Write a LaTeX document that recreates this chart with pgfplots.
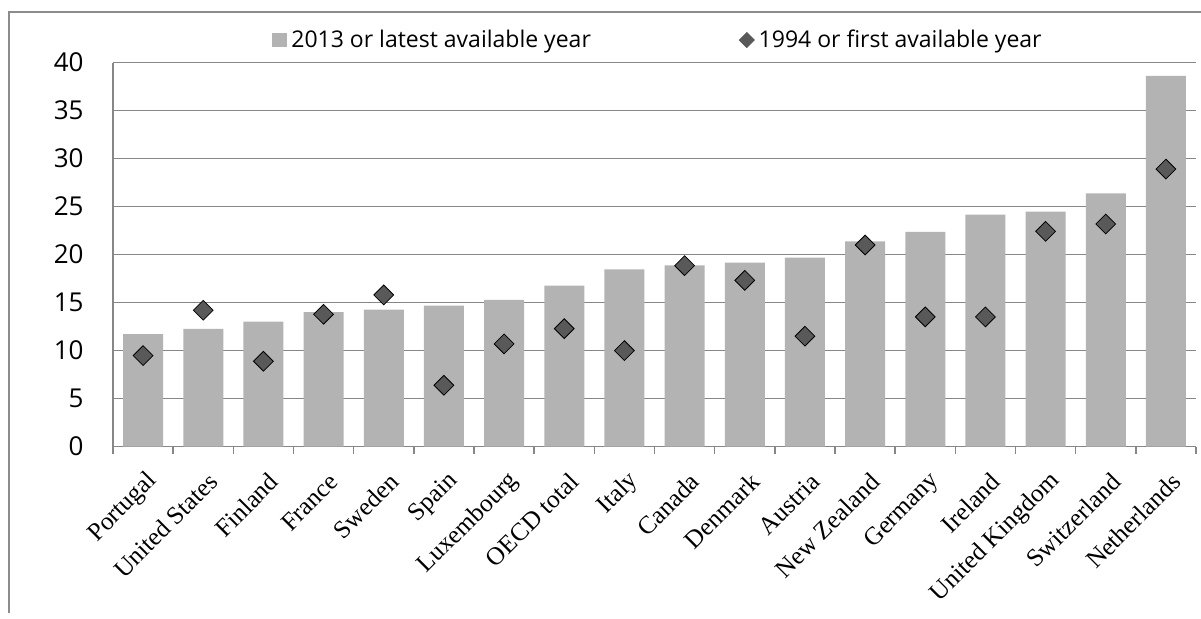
\documentclass[border=0pt]{standalone}
\usepackage{fontspec}
\setmainfont{Open Sans}
\newfontfamily\labelserif{Liberation Serif}
\usepackage{pgfplots}
\usepackage{pgfplotstable}
\pgfplotsset{compat=1.18}

\definecolor{barfill}{HTML}{B3B3B3}
\definecolor{markfill}{HTML}{595959}
\definecolor{gridgray}{HTML}{878787}
\definecolor{framegray}{HTML}{8C8C8C}

% idx: category position; latest: 2013 or latest available year; first: 1994 or first available year
\pgfplotstableread{
idx latest first
1  11.70  9.47
2  12.25 14.19
3  13.00  8.88
4  14.00 13.77
5  14.26 15.79
6  14.68  6.38
7  15.27 10.69
8  16.76 12.28
9  18.46  9.99
10 18.88 18.84
11 19.15 17.31
12 19.67 11.49
13 21.37 20.99
14 22.35 13.50
15 24.15 13.50
16 24.46 22.41
17 26.37 23.18
18 38.62 28.90
}\sharedata

\begin{document}
\begin{tikzpicture}
\useasboundingbox (0,0) rectangle (600.5pt,309pt);
% chart frame
\draw[framegray, line width=0.75pt] (4.5pt,2.5pt) -- (4.5pt,303pt) -- (602pt,303pt);
\begin{axis}[
  at={(56.5pt,85.75pt)}, anchor=south west,
  scale only axis, width=541.5pt, height=192pt,
  xmin=0.5, xmax=18.5, ymin=0, ymax=40,
  axis lines*=left,
  axis line style={gridgray, line width=0.7pt},
  ytick={0,5,...,40},
  ytick style={draw=none},
  ymajorgrids,
  grid style={gridgray, line width=0.7pt},
  xtick={1,...,18},
  xticklabels={Portugal, United States, Finland, France, Sweden, Spain, Luxembourg, OECD total, Italy, Canada, Denmark, Austria, New Zealand, Germany, Ireland, United Kingdom, Switzerland, Netherlands},
  major x tick style={draw=none},
  major tick length=0pt,
  minor xtick={0.5,1.5,...,18.5},
  minor x tick style={gridgray, line width=0.7pt},
  minor tick length=3.5pt,
  xtick align=outside,
  /pgf/number format/assume math mode=true,
  yticklabel style={font=\fontsize{13}{15}\selectfont, anchor=east, inner sep=0pt, xshift=-14.5pt},
  xticklabel style={font=\labelserif\fontsize{12.6}{14}\selectfont, xshift=5.25pt, yshift=-15.5pt, rotate=45, anchor=east, inner sep=0pt},
  legend columns=2,
  legend style={at={(0.1468,1.0586)}, anchor=west, draw=none, fill=none, inner sep=0pt,
    font=\fontsize{11.5}{13}\selectfont,
    /tikz/every even column/.append style={column sep=72pt}},
]
\addplot[ybar, bar width=20pt, fill=barfill, draw=none,
  legend image code/.code={\fill[barfill] (0pt,-3.6pt) rectangle (7.5pt,3.6pt);}]
  table[x=idx, y=latest]{\sharedata};
\addlegendentry{2013 or latest available year}
\addplot[only marks, mark=square*, mark size=3.5pt,
  mark options={rotate=45, fill=markfill, draw=none},
  legend image code/.code={\fill[markfill] (0pt,0pt) -- (3.75pt,3.75pt) -- (7.5pt,0pt) -- (3.75pt,-3.75pt) -- cycle;}]
  table[x=idx, y=first]{\sharedata};
\addlegendentry{1994 or first available year}
\end{axis}
\end{tikzpicture}
\end{document}
